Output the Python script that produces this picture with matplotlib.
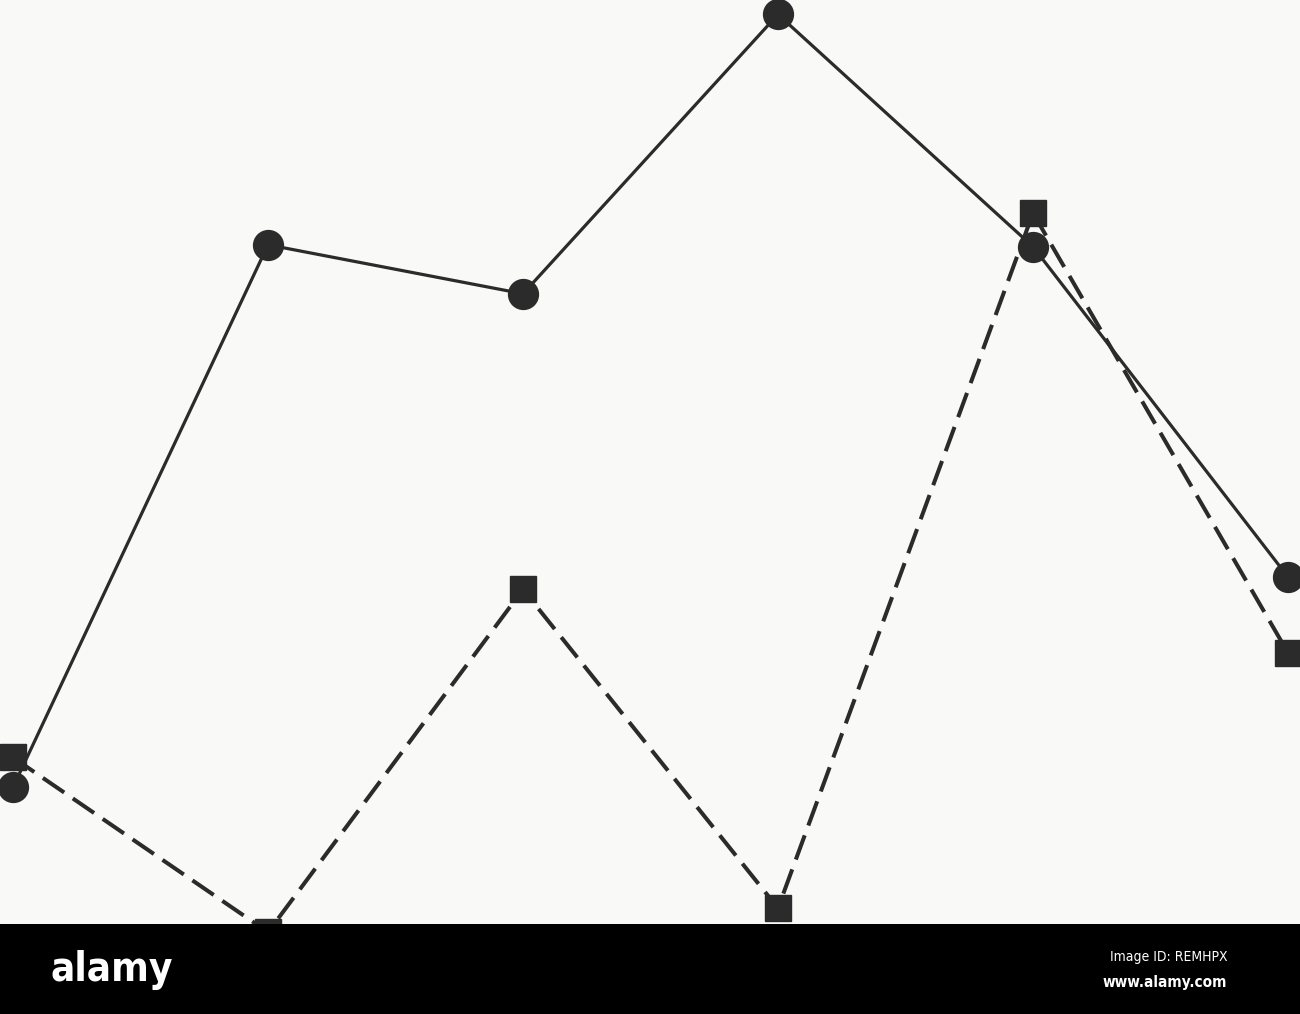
import matplotlib.pyplot as plt
import matplotlib as mpl
from matplotlib.patches import Rectangle

# data (arbitrary units, 0-100)
x_pos = [0, 1, 2, 3, 4, 5]
circle_vals = [18.0, 74.5, 69.4, 98.5, 74.3, 39.9]
square_vals = [21.1, 2.9, 38.6, 5.4, 77.8, 32.0]

# colours
INK = '#2b2b2b'
PAPER = '#f9f9f7'

mpl.rcParams['figure.dpi'] = 100

fig = plt.figure(figsize=(13, 10.14), facecolor=PAPER)
ax = fig.add_axes([0, 0, 1, 1])
ax.set_facecolor(PAPER)
ax.set_axis_off()

# series
ax.plot(x_pos, circle_vals, color=INK, linewidth=2.3,
        marker='o', markersize=21.5, markerfacecolor=INK,
        markeredgecolor=INK, zorder=3)
ax.plot(x_pos, square_vals, color=INK, linewidth=2.9,
        linestyle=(0, (6.4, 2.6)),
        marker='s', markersize=18.5, markerfacecolor=INK,
        markeredgecolor=INK, zorder=4)

ax.set_xlim(-13 / 255, 5 + 12 / 255)
ax.set_ylim(-5.625, 100)

# bottom banner
band_h = (1014 - 924) / 1014
fig.patches.append(Rectangle((0, 0), 1, band_h, transform=fig.transFigure,
                             facecolor='black', edgecolor='none', zorder=10))
fig.text(50 / 1300, 1 - 981 / 1014, 'alamy', color='white',
         fontsize=29, fontweight='bold', family='DejaVu Sans',
         fontstretch='condensed', ha='left', va='baseline', zorder=11)
fig.text(1227 / 1300, 1 - 961 / 1014, 'Image ID: REMHPX', color='white',
         fontsize=10, family='DejaVu Sans', fontstretch='condensed',
         ha='right', va='baseline', zorder=11)
fig.text(1227 / 1300, 1 - 987 / 1014, 'www.alamy.com', color='white',
         fontsize=11, fontweight='bold', family='DejaVu Sans',
         fontstretch='condensed', ha='right', va='baseline', zorder=11)

fig.savefig('out.png', dpi=100, facecolor=PAPER)
